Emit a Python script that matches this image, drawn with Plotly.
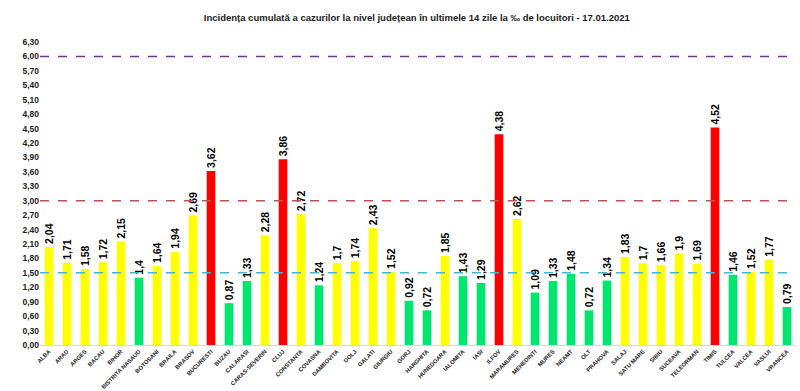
import plotly.graph_objects as go

judete = ["ALBA", "ARAD", "ARGES", "BACAU", "BIHOR", "BISTRITA NASAUD", "BOTOSANI", "BRAILA",
          "BRASOV", "BUCURESTI", "BUZAU", "CALARASI", "CARAS-SEVERIN", "CLUJ", "CONSTANTA",
          "COVASNA", "DAMBOVITA", "DOLJ", "GALATI", "GIURGIU", "GORJ", "HARGHITA", "HUNEDOARA",
          "IALOMITA", "IASI", "ILFOV", "MARAMURES", "MEHEDINTI", "MURES", "NEAMT", "OLT",
          "PRAHOVA", "SALAJ", "SATU MARE", "SIBIU", "SUCEAVA", "TELEORMAN", "TIMIS", "TULCEA",
          "VALCEA", "VASLUI", "VRANCEA"]
valori = [2.04, 1.71, 1.58, 1.72, 2.15, 1.4, 1.64, 1.94, 2.69, 3.62, 0.87, 1.33, 2.28, 3.86,
          2.72, 1.24, 1.7, 1.74, 2.43, 1.52, 0.92, 0.72, 1.85, 1.43, 1.29, 4.38, 2.62, 1.09,
          1.33, 1.48, 0.72, 1.34, 1.83, 1.7, 1.66, 1.9, 1.69, 4.52, 1.46, 1.52, 1.77, 0.79]
praguri = [6.0, 3.0, 1.5]
culori_prag = ["#7030A0", "#C0504D", "#3FB8D8"]
tick_vals = [i * 0.3 for i in range(22)]
tick_text = ["<b>" + f"{v:.2f}".replace(".", ",") + "</b>" for v in tick_vals]

def culoare(v):
    if v > 3.0:
        return "#FF0000"
    if v >= 1.5:
        return "#FFFF00"
    return "#00E66E"

labels = ["<b>" + f"{v:g}".replace(".", ",") + "</b>" for v in valori]

fig = go.Figure()
fig.add_trace(go.Bar(
    x=judete, y=valori,
    marker=dict(color=[culoare(v) for v in valori], line=dict(width=0)),
    text=labels, textposition="outside", textangle=-90, constraintext="none",
    textfont=dict(size=10.5, color="black", family="Liberation Sans Narrow, Liberation Sans"),
    cliponaxis=False,
))
for p, c in zip(praguri, culori_prag):
    fig.add_shape(type="line", xref="paper", yref="y", x0=0.0, x1=1.0, y0=p, y1=p,
                  line=dict(color=c, width=1.5, dash="dash"))

fig.update_layout(
    width=800, height=391,
    margin=dict(l=40, r=4, t=42, b=46, autoexpand=False),
    paper_bgcolor="white", plot_bgcolor="white",
    bargap=0.52,
    showlegend=False,
    title=dict(text="<b>Incidența cumulată a cazurilor la nivel județean în ultimele 14 zile la ‰ de locuitori - 17.01.2021</b>",
               x=0.521, xanchor="center", y=0.955, yanchor="middle",
               font=dict(size=9.5, color="#222222", family="Liberation Sans Narrow, Liberation Sans")),
    font=dict(family="Liberation Sans", color="#222222"),
)
fig.update_yaxes(range=[0, 6.3], tickvals=tick_vals, ticktext=tick_text, showgrid=False,
                 zeroline=False, showline=False, ticks="", automargin=False,
                 tickfont=dict(size=8.5, family="Liberation Sans Narrow, Liberation Sans", color="#222222"))
fig.update_xaxes(tickangle=-45, showgrid=False, showline=True, linecolor="#D9D9D9", linewidth=1,
                 tickvals=judete, ticktext=["<b>" + j + "</b>" for j in judete], automargin=False,
                 tickfont=dict(size=5.8, family="Liberation Sans Narrow, Liberation Sans", color="#222222"), ticks="")
fig.write_html("out.html", config={"displayModeBar": False},
               post_script="document.body.style.margin='0';")
